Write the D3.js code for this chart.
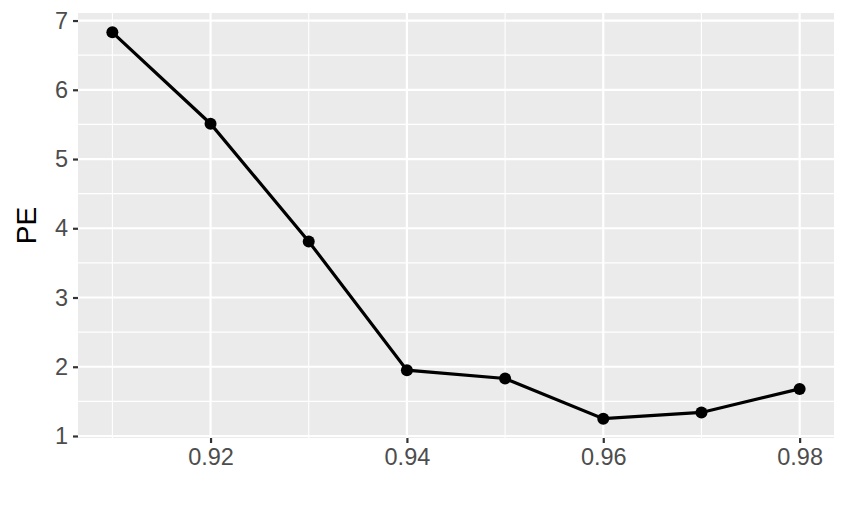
<!DOCTYPE html>
<html>
<head>
<meta charset="utf-8">
<script src="https://cdn.jsdelivr.net/npm/d3@7"></script>
<style>
  body { margin: 0; background: #fff; }
  svg { display: block; font-family: "Liberation Sans", Arial, sans-serif; }
</style>
</head>
<body>
<div id="chart"></div>
<script>
const width = 848;
const height = 525;

// data
const thresholds = [0.91, 0.92, 0.93, 0.94, 0.95, 0.96, 0.97, 0.98];
const peValues = [6.83, 5.51, 3.81, 1.95, 1.83, 1.25, 1.34, 1.68];
const xTicks = [0.92, 0.94, 0.96, 0.98];
const xMinor = [0.91, 0.93, 0.95, 0.97];
const yTicks = [1, 2, 3, 4, 5, 6, 7];
const yMinor = [1.5, 2.5, 3.5, 4.5, 5.5, 6.5];

const panel = { left: 78, right: 834, top: 13, bottom: 438 };

// ggplot-like 5% expansion
const xr = d3.extent(thresholds), yr = d3.extent(peValues);
const xpad = (xr[1] - xr[0]) * 0.05, ypad = (yr[1] - yr[0]) * 0.05;

const x = d3.scaleLinear()
    .domain([xr[0] - xpad, xr[1] + xpad])
    .range([panel.left, panel.right]);
const y = d3.scaleLinear()
    .domain([yr[0] - ypad, yr[1] + ypad])
    .range([panel.bottom, panel.top]);

const svg = d3.select("#chart")
    .append("svg")
    .attr("width", width)
    .attr("height", height);

svg.append("rect")
    .attr("x", panel.left)
    .attr("y", panel.top)
    .attr("width", panel.right - panel.left)
    .attr("height", panel.bottom - panel.top)
    .attr("fill", "#EBEBEB");

const grid = svg.append("g");
grid.selectAll(".xminor").data(xMinor).join("line")
    .attr("x1", d => x(d)).attr("x2", d => x(d))
    .attr("y1", panel.top).attr("y2", panel.bottom)
    .attr("stroke", "#fff").attr("stroke-width", 1.1);
grid.selectAll(".yminor").data(yMinor).join("line")
    .attr("y1", d => y(d)).attr("y2", d => y(d))
    .attr("x1", panel.left).attr("x2", panel.right)
    .attr("stroke", "#fff").attr("stroke-width", 1.1);
grid.selectAll(".xmajor").data(xTicks).join("line")
    .attr("x1", d => x(d)).attr("x2", d => x(d))
    .attr("y1", panel.top).attr("y2", panel.bottom)
    .attr("stroke", "#fff").attr("stroke-width", 2.2);
grid.selectAll(".ymajor").data(yTicks).join("line")
    .attr("y1", d => y(d)).attr("y2", d => y(d))
    .attr("x1", panel.left).attr("x2", panel.right)
    .attr("stroke", "#fff").attr("stroke-width", 2.2);

// axes
const xAxis = d3.axisBottom(x).tickValues(xTicks).tickFormat(d3.format(".2f"))
    .tickSize(5).tickPadding(5);
const yAxis = d3.axisLeft(y).tickValues(yTicks).tickFormat(d3.format("d"))
    .tickSize(5).tickPadding(5);

const gx = svg.append("g")
    .attr("transform", "translate(0," + panel.bottom + ")")
    .call(xAxis);
const gy = svg.append("g")
    .attr("transform", "translate(" + panel.left + ",0)")
    .call(yAxis);

[gx, gy].forEach(g => {
    g.select(".domain").remove();
    g.selectAll(".tick line").attr("stroke", "#333").attr("stroke-width", 2.2);
    g.selectAll(".tick text")
        .attr("fill", "#4D4D4D")
        .style("font-size", "23.5px");
});

svg.append("text")
    .attr("transform", "translate(36," + ((panel.top + panel.bottom) / 2) + ") rotate(-90)")
    .attr("text-anchor", "middle")
    .style("font-size", "28px")
    .attr("fill", "#000")
    .text("PE");

// line and points
const line = d3.line()
    .x((d, i) => x(thresholds[i]))
    .y(d => y(d));

svg.append("path")
    .datum(peValues)
    .attr("d", line)
    .attr("fill", "none")
    .attr("stroke", "#000")
    .attr("stroke-width", 3.2);

svg.selectAll(".pt").data(peValues).join("circle")
    .attr("cx", (d, i) => x(thresholds[i]))
    .attr("cy", d => y(d))
    .attr("r", 6)
    .attr("fill", "#000");
</script>
</body>
</html>
